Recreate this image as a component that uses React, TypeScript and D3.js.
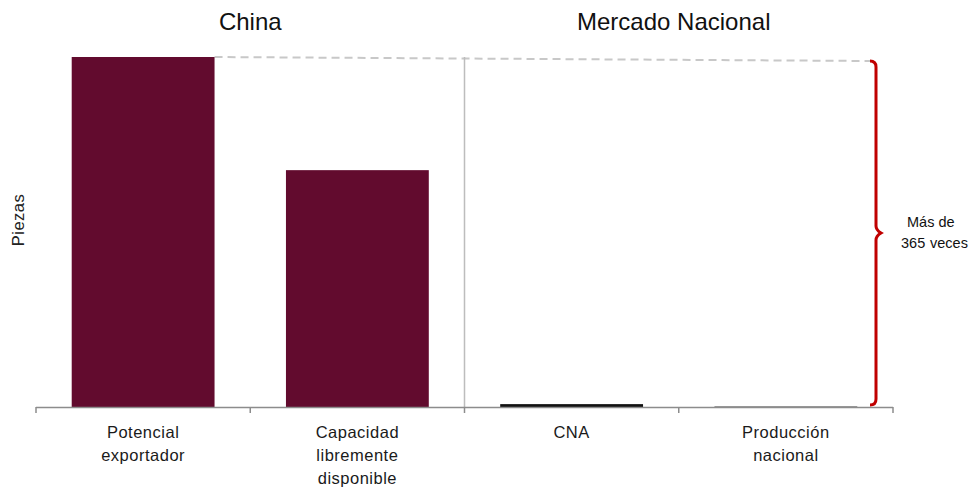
import React from "react";
import * as d3 from "d3";

const categories = ["Potencial|exportador", "Capacidad|libremente|disponible", "CNA", "Producción|nacional"];
const values = [365, 247, 3, 0.6];
const barColors = ["#620B2E", "#620B2E", "#111111", "#9a9a9a"];
const groupTitles = ["China", "Mercado Nacional"];
const yLabel = "Piezas";
const braceText = ["Más de", "365", "veces"];

const W = 972;
const H = 487;

export default function App() {
  const x = d3.scaleBand<string>().domain(categories).range([36, 893]).paddingInner(1 / 3).paddingOuter(1 / 6);
  const y = d3.scaleLinear().domain([0, 365]).range([407, 57]);
  const step = x.step();
  const x0 = 36;
  const ticks = d3.range(categories.length + 1).map((i) => x0 + i * step);
  const font = "'Liberation Sans', Arial, sans-serif";
  const top = y(values[0]);
  const b1 = x(categories[0])! + x.bandwidth();
  const bx = 876;
  const mid = (y(365) + 4 + 405) / 2;
  const braceTop = y(365) + 4;
  const braceBot = 405;
  const brace = `M ${bx - 6} ${braceTop} Q ${bx} ${braceTop} ${bx} ${braceTop + 6} L ${bx} ${mid - 7} Q ${bx} ${mid - 3} ${bx + 5} ${mid} Q ${bx} ${mid + 3} ${bx} ${mid + 7} L ${bx} ${braceBot - 6} Q ${bx} ${braceBot} ${bx - 6} ${braceBot}`;
  return (
    <svg width={W} height={H} style={{ position: "absolute", left: 0, top: 0, background: "#fff" }} fontFamily={font}>
      <line x1={b1} y1={top} x2={bx - 6} y2={braceTop} stroke="#c8c8c8" strokeWidth={2} strokeDasharray="8,5" />
      <line x1={ticks[2]} x2={ticks[2]} y1={top} y2={407} stroke="#bdbdbd" strokeWidth={1.5} />
      {categories.map((c, i) => {
        const h = Math.max(407 - y(values[i]), 1);
        return <rect key={c} x={x(c)} y={407 - h} width={x.bandwidth()} height={h} fill={barColors[i]} />;
      })}
      <line x1={ticks[0]} x2={ticks[ticks.length - 1]} y1={407.5} y2={407.5} stroke="#8c8c8c" strokeWidth={1.5} />
      {ticks.map((t, i) => (
        <line key={i} x1={t} x2={t} y1={407} y2={413} stroke="#8c8c8c" strokeWidth={1.5} />
      ))}
      {categories.map((c) => {
        const lines = c.split("|");
        const cx = x(c)! + x.bandwidth() / 2;
        return (
          <text key={c} x={cx} y={438} textAnchor="middle" fontSize={16.5} letterSpacing={0.5} fill="#1a1a1a">
            {lines.map((l, j) => (
              <tspan key={j} x={cx} dy={j === 0 ? 0 : 23}>{l}</tspan>
            ))}
          </text>
        );
      })}
      {groupTitles.map((g, i) => (
        <text key={g} x={(ticks[i * 2] + ticks[i * 2 + 2]) / 2 - (i === 1 ? 5 : 0)} y={30} textAnchor="middle" fontSize={24} fill="#111">
          {g}
        </text>
      ))}
      <text transform={`translate(24,220) rotate(-90)`} textAnchor="middle" fontSize={16.5} letterSpacing={0.5} fill="#222">{yLabel}</text>
      <path d={brace} fill="none" stroke="#C00000" strokeWidth={3} />
      <text fontSize={14.5} fill="#111">
        <tspan x={907} y={227}>{braceText[0]}</tspan>
        <tspan x={901} y={248}>{braceText[1]}</tspan>
        <tspan x={930} y={248}>{braceText[2]}</tspan>
      </text>
    </svg>
  );
}
